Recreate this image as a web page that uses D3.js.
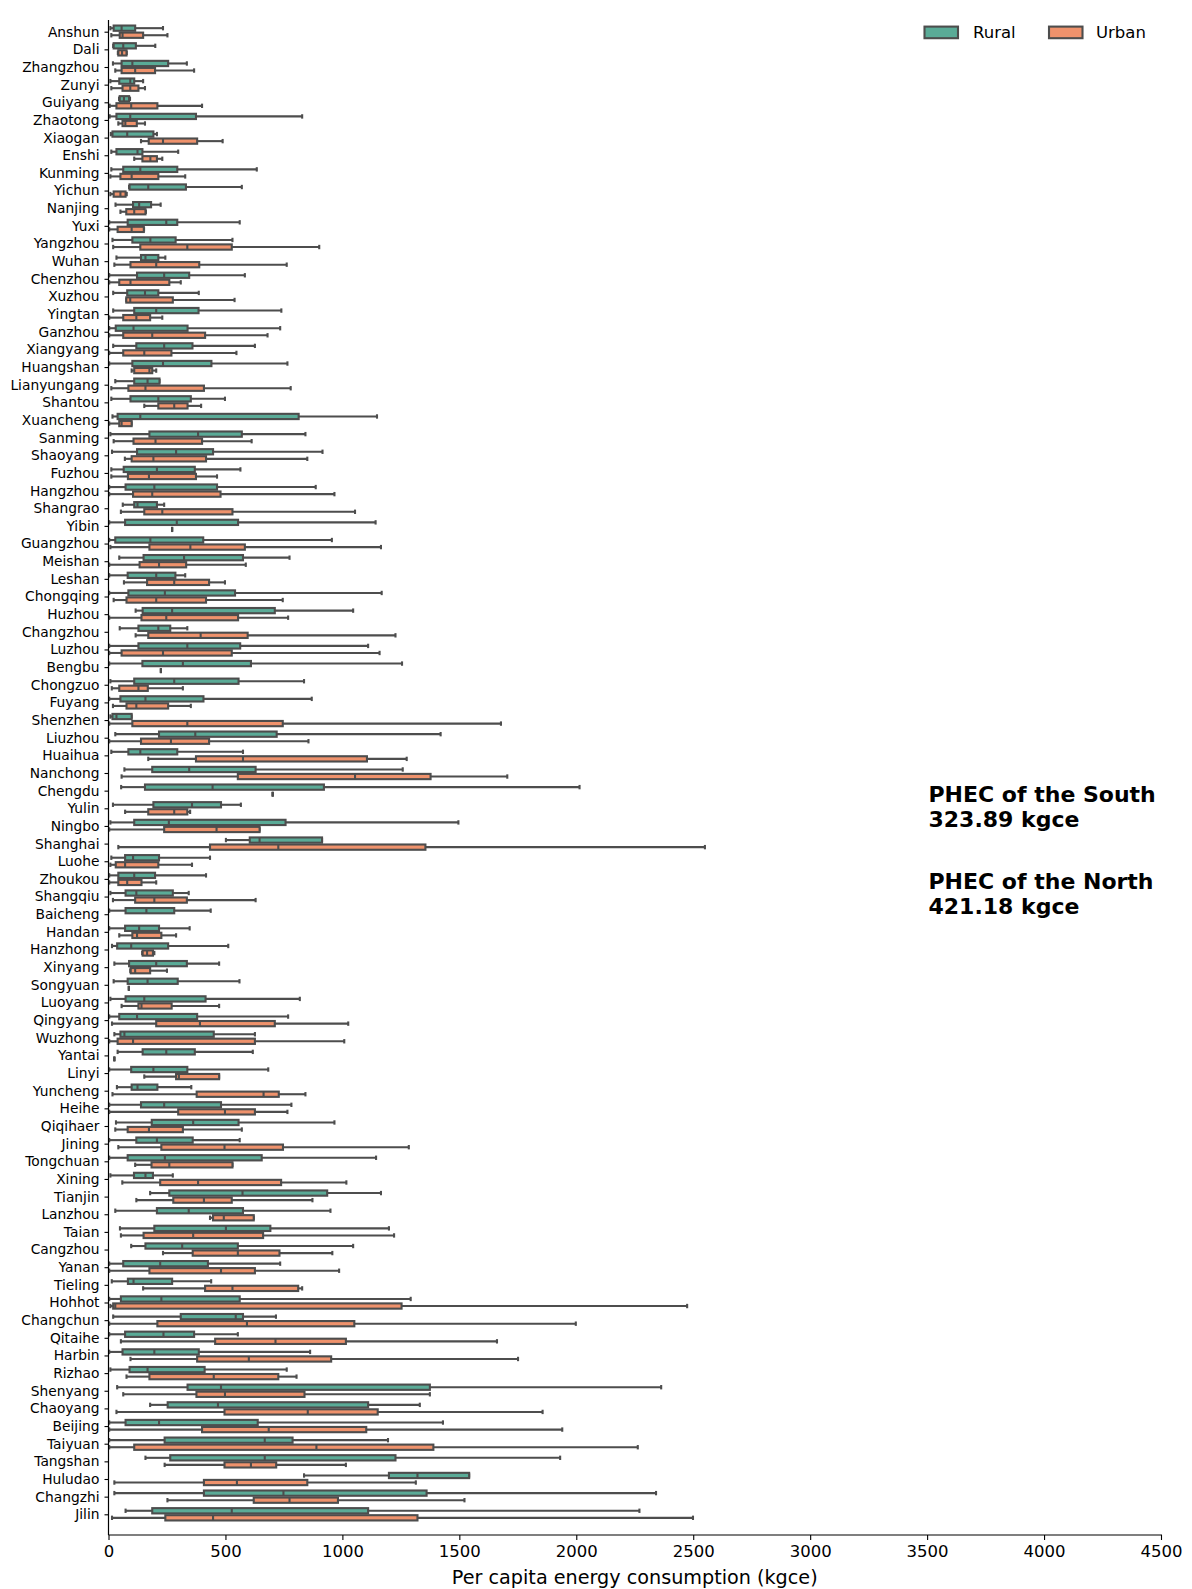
<!DOCTYPE html>
<html>
<head>
<meta charset="utf-8">
<script src="https://cdnjs.cloudflare.com/ajax/libs/d3/7.8.5/d3.min.js"></script>
<style>
  html, body { margin: 0; padding: 0; background: #fff; }
  svg { display: block; font-family: "DejaVu Sans", sans-serif; }
</style>
</head>
<body>
<svg id="chart" width="1192" height="1589"></svg>
<script>
// Cities, top to bottom
const cities = ["Anshun","Dali","Zhangzhou","Zunyi","Guiyang","Zhaotong","Xiaogan","Enshi","Kunming","Yichun",
  "Nanjing","Yuxi","Yangzhou","Wuhan","Chenzhou","Xuzhou","Yingtan","Ganzhou","Xiangyang","Huangshan",
  "Lianyungang","Shantou","Xuancheng","Sanming","Shaoyang","Fuzhou","Hangzhou","Shangrao","Yibin","Guangzhou",
  "Meishan","Leshan","Chongqing","Huzhou","Changzhou","Luzhou","Bengbu","Chongzuo","Fuyang","Shenzhen",
  "Liuzhou","Huaihua","Nanchong","Chengdu","Yulin","Ningbo","Shanghai","Luohe","Zhoukou","Shangqiu",
  "Baicheng","Handan","Hanzhong","Xinyang","Songyuan","Luoyang","Qingyang","Wuzhong","Yantai","Linyi",
  "Yuncheng","Heihe","Qiqihaer","Jining","Tongchuan","Xining","Tianjin","Lanzhou","Taian","Cangzhou",
  "Yanan","Tieling","Hohhot","Changchun","Qitaihe","Harbin","Rizhao","Shenyang","Chaoyang","Beijing",
  "Taiyuan","Tangshan","Huludao","Changzhi","Jilin"];

// Box statistics per city: [lower whisker, Q1, median, Q3, upper whisker] in kgce
const ruralStats = [
  [8,22,56,114,233],[20,22,63,117,200],[19,56,102,255,335],[8,46,93,110,148],[45,48,66,88,92],
  [5,34,93,374,828],[10,17,80,192,207],[12,34,124,145,298],[12,63,136,294,634],[88,90,170,331,570],
  [30,105,131,182,223],[3,82,247,294,561],[17,102,179,287,530],[34,139,158,213,243],[3,122,238,345,583],
  [20,80,156,213,386],[20,110,204,385,739],[3,31,107,338,734],[20,119,238,359,626],[3,102,233,440,765],
  [29,110,167,218,218],[12,94,213,352,498],[17,39,136,813,1148],[8,175,383,570,842],[15,122,289,447,915],
  [12,65,207,369,564],[3,73,196,464,886],[61,110,124,207,238],[3,71,292,554,1142],[3,29,179,405,955],
  [46,150,323,575,774],[3,82,204,286,328],[3,85,241,541,1168],[116,146,272,711,1046],[48,128,213,264,337],
  [3,128,337,563,1110],[3,145,318,609,1255],[8,110,281,556,836],[3,51,158,406,869],[8,17,34,99,99],
  [29,216,371,719,1420],[12,85,136,294,575],[68,187,345,629,1258],[54,156,445,921,2014],[19,192,357,481,566],
  [8,110,258,757,1496],[502,604,646,913,913],[12,71,105,216,434],[3,42,110,199,417],[8,73,119,275,343],
  [3,73,162,281,437],[3,71,131,216,347],[15,37,97,255,512],[25,88,204,335,473],[22,82,167,296,560],
  [8,73,153,415,818],[3,46,122,379,768],[25,51,68,450,626],[39,146,247,369,617],[3,97,192,337,683],
  [36,99,124,209,354],[3,139,238,481,782],[32,185,362,556,966],[3,119,207,360,561],[3,82,241,655,1144],
  [8,109,158,190,275],[178,260,573,935,1165],[29,207,343,575,949],[49,196,502,692,1199],[97,158,315,553,1046],
  [3,63,221,425,734],[14,83,107,272,439],[3,53,226,561,1292],[20,309,544,575,716],[3,71,235,366,553],
  [3,60,196,386,862],[8,90,167,411,762],[37,338,481,1374,2363],[178,253,468,1110,1331],[3,73,216,638,1430],
  [3,240,668,787,1195],[158,264,668,1227,1931],[836,1199,1321,1542,1542],[25,408,748,1360,2341],[73,187,527,1110,2270]
];

const urbanStats = [
  [12,48,60,148,252],[40,42,58,77,78],[29,56,114,199,366],[12,60,93,128,156],[5,34,97,209,400],
  [42,60,72,121,156],[139,172,233,379,488],[110,145,179,207,230],[8,51,99,213,328],[8,22,51,73,78],
  [51,76,110,158,160],[3,39,99,151,152],[20,136,337,527,901],[25,94,204,388,762],[3,46,94,260,309],
  [76,76,93,275,539],[3,63,119,178,230],[3,63,187,413,680],[3,63,153,269,547],[99,110,175,187,204],
  [12,85,158,408,779],[153,213,281,338,396],[3,46,56,99,99],[22,107,201,400,612],[70,99,192,417,850],
  [12,83,173,374,464],[3,105,187,479,966],[53,153,230,530,1054],[272,272,272,272,272],[8,175,350,583,1165],
  [3,133,216,332,587],[66,165,281,430,498],[22,77,204,417,745],[3,141,247,554,768],[116,170,394,595,1227],
  [3,56,233,527,1159],[224,224,224,224,224],[14,46,128,168,318],[19,77,119,255,352],[3,102,337,745,1678],
  [3,139,267,430,855],[170,374,575,1105,1275],[56,553,1054,1377,1705],[702,702,702,702,702],[71,170,281,337,349],
  [3,238,462,646,646],[42,434,726,1355,2550],[8,31,71,213,357],[3,42,80,141,204],[19,114,196,335,629],
  null,[46,102,122,226,289],[144,146,165,190,196],[93,95,114,178,250],[87,87,87,87,87],
  [56,128,141,270,473],[15,204,391,711,1025],[3,39,105,626,1008],[25,25,25,25,25],[153,289,301,473,473],
  [17,377,663,728,842],[3,298,498,626,765],[29,82,173,318,570],[42,226,496,746,1284],[114,184,260,530,530],
  [59,221,383,738,1017],[119,277,408,527,872],[434,447,493,621,621],[53,150,362,661,1221],[233,360,553,731,957],
  [3,175,481,626,986],[148,413,530,811,828],[8,20,29,1253,2474],[3,209,592,1051,1998],[53,456,714,1015,1661],
  [94,379,600,952,1751],[77,175,450,726,804],[63,376,498,838,1374],[34,496,852,1151,1856],[3,400,685,1102,1940],
  [3,110,889,1389,2263],[240,496,609,717,1015],[25,408,549,850,1314],[252,621,774,981,1522],[15,243,447,1321,2499]
];

const groups = ["Rural", "Urban"];
const xTicks = [0,500,1000,1500,2000,2500,3000,3500,4000,4500];
const notes = [
  ["PHEC of the South", "323.89 kgce"],
  ["PHEC of the North", "421.18 kgce"]
];

const colors = { Rural: "#5aab97", Urban: "#ef926c" };
const edge = "#4d4d4d";
const lw = 2.1;

const svg = d3.select("#chart");
svg.append("rect").attr("width", 1192).attr("height", 1589).attr("fill", "#fff");

const x = d3.scaleLinear().domain([0, 4500]).range([108.5, 1161]);
const y = d3.scalePoint().domain(cities).range([31.7, 1514.3]);
const boxH = y.step() * 0.4;
const capH = boxH * 0.62;
const axisY = 1535;

// boxes
const plot = svg.append("g");
function drawBox(stats, cy, color) {
  const [lo, q1, med, q3, hi] = stats;
  const g = plot.append("g");
  // whiskers
  g.append("line").attr("x1", x(lo)).attr("x2", x(q1)).attr("y1", cy).attr("y2", cy)
    .attr("stroke", edge).attr("stroke-width", lw);
  g.append("line").attr("x1", x(q3)).attr("x2", x(hi)).attr("y1", cy).attr("y2", cy)
    .attr("stroke", edge).attr("stroke-width", lw);
  // caps
  [lo, hi].forEach(v => {
    g.append("line").attr("x1", x(v)).attr("x2", x(v)).attr("y1", cy - capH / 2).attr("y2", cy + capH / 2)
      .attr("stroke", edge).attr("stroke-width", lw);
  });
  // box
  if (q3 > q1) {
    g.append("rect").attr("x", x(q1)).attr("y", cy - boxH / 2 + 0.9)
      .attr("width", x(q3) - x(q1)).attr("height", boxH - 1.8)
      .attr("fill", color).attr("stroke", edge).attr("stroke-width", lw);
  }
  // median
  g.append("line").attr("x1", x(med)).attr("x2", x(med))
    .attr("y1", cy - boxH / 2 + 0.9).attr("y2", cy + boxH / 2 - 0.9)
    .attr("stroke", edge).attr("stroke-width", lw);
}

cities.forEach((c, i) => {
  const cy = y(c);
  if (ruralStats[i]) drawBox(ruralStats[i], cy - boxH / 2, colors.Rural);
  if (urbanStats[i]) drawBox(urbanStats[i], cy + boxH / 2, colors.Urban);
});

// x axis
const xAxis = svg.append("g").attr("transform", `translate(0,${axisY})`)
  .call(d3.axisBottom(x).tickValues(xTicks).tickFormat(d3.format("d")).tickSize(5).tickSizeOuter(0).tickPadding(5));
xAxis.select(".domain").remove();
xAxis.selectAll(".tick line").attr("stroke", "#000").attr("stroke-width", 1.1);
xAxis.selectAll(".tick text").attr("font-size", 16.5).attr("fill", "#000")
  .attr("font-family", "DejaVu Sans");
svg.append("line").attr("x1", 108.5).attr("x2", 1162).attr("y1", axisY).attr("y2", axisY)
  .attr("stroke", "#000").attr("stroke-width", 1.2);

// y axis
const yAxis = svg.append("g").attr("transform", "translate(108.5,0)")
  .call(d3.axisLeft(y).tickSize(4).tickSizeOuter(0).tickPadding(5));
yAxis.select(".domain").remove();
yAxis.selectAll(".tick line").attr("stroke", "#000").attr("stroke-width", 1.1);
yAxis.selectAll(".tick text").attr("font-size", 13.8).attr("fill", "#000")
  .attr("font-family", "DejaVu Sans");
svg.append("line").attr("x1", 108.5).attr("x2", 108.5).attr("y1", 20).attr("y2", axisY)
  .attr("stroke", "#000").attr("stroke-width", 1.2);

// axis title
svg.append("text").attr("x", x(2250)).attr("y", 1577).attr("text-anchor", "middle")
  .attr("dominant-baseline", "central").attr("font-size", 19.2).attr("fill", "#000")
  .text("Per capita energy consumption (kgce)");

// legend
const legendPos = [{ rx: 924.5, tx: 973 }, { rx: 1049, tx: 1096 }];
groups.forEach((gname, i) => {
  svg.append("rect").attr("x", legendPos[i].rx).attr("y", 32.4 - 5.8)
    .attr("width", 33.5).attr("height", 11.6)
    .attr("fill", colors[gname]).attr("stroke", edge).attr("stroke-width", lw);
  svg.append("text").attr("x", legendPos[i].tx).attr("y", 32.4)
    .attr("dominant-baseline", "central").attr("font-size", 16.5).attr("fill", "#000")
    .text(gname);
});

// annotations
const noteY = [794, 881];
notes.forEach((lines, i) => {
  lines.forEach((t, j) => {
    svg.append("text").attr("x", 928.5).attr("y", noteY[i] + j * 25)
      .attr("dominant-baseline", "central").attr("font-size", 22).attr("font-weight", "bold")
      .attr("fill", "#000").text(t);
  });
});
</script>
</body>
</html>
